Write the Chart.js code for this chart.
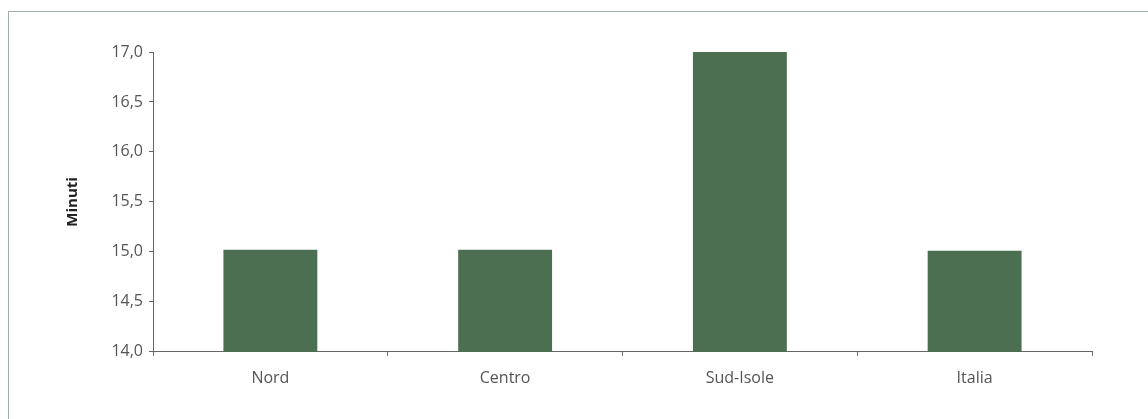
<!DOCTYPE html>
<html>
<head>
<meta charset="utf-8">
<script src="https://cdn.jsdelivr.net/npm/chart.js@4"></script>
<style>
  html, body { margin: 0; padding: 0; background: #fff; }
  body { width: 1148px; height: 419px; position: relative; overflow: hidden; }
  #frame {
    position: absolute; left: 8px; top: 11px; width: 1160px; height: 430px;
    border: 1px solid #9fb0a6; box-sizing: border-box;
  }
  #wrap { position: absolute; left: 0; top: 0; width: 1148px; height: 419px; }
</style>
</head>
<body>
<div id="frame"></div>
<div id="wrap"><canvas id="myChart"></canvas></div>
<script>
'use strict';

// ***** DATA *****
let categories = ['Nord', 'Centro', 'Sud-Isole', 'Italia'];
let minutes = [15.02, 15.02, 17.0, 15.01];
let yTicks = [14.0, 14.5, 15.0, 15.5, 16.0, 16.5, 17.0];

// ***** STYLE *****
let barColor = '#4b6f50';
let axisColor = '#666';
let labelColor = '#555';
let fontFamily = '"Open Sans", "Liberation Sans", sans-serif';

function formatTick(value) {
  return value.toFixed(1).replace('.', ',');
}

const data = {
  labels: categories,
  datasets: [{
    label: 'Minuti',
    data: minutes,
    backgroundColor: barColor,
    borderWidth: 0,
    barPercentage: 0.4,
    categoryPercentage: 1.0
  }]
};

const config = {
  type: 'bar',
  data: data,
  options: {
    responsive: true,
    maintainAspectRatio: false,
    animation: false,
    layout: {
      padding: { left: 64, right: 56, top: 52, bottom: 18 }
    },
    plugins: {
      legend: { display: false },
      tooltip: { enabled: false }
    },
    scales: {
      x: {
        offset: true,
        grid: {
          offset: true,
          drawOnChartArea: false,
          drawTicks: true,
          tickLength: 4,
          color: axisColor
        },
        border: { color: axisColor, width: 1 },
        ticks: {
          color: labelColor,
          padding: 13,
          font: { family: fontFamily, size: 16 }
        }
      },
      y: {
        min: 14,
        max: 17,
        afterBuildTicks: function (scale) {
          scale.ticks = yTicks.map(function (v) { return { value: v }; });
        },
        afterFit: function (scale) {
          scale.width = 89;
        },
        grid: {
          drawOnChartArea: false,
          drawTicks: true,
          tickLength: 4,
          color: axisColor
        },
        border: { color: axisColor, width: 1 },
        ticks: {
          color: labelColor,
          padding: 6,
          font: { family: fontFamily, size: 16 },
          callback: function (value) { return formatTick(value); }
        },
        title: {
          display: true,
          text: 'Minuti',
          color: '#222',
          padding: { top: 0, bottom: 0 },
          font: { family: fontFamily, size: 15, weight: 'bold' }
        }
      }
    }
  }
};

let canvasChart = document.getElementById('myChart');
const myChart = new Chart(canvasChart, config);
</script>
</body>
</html>
